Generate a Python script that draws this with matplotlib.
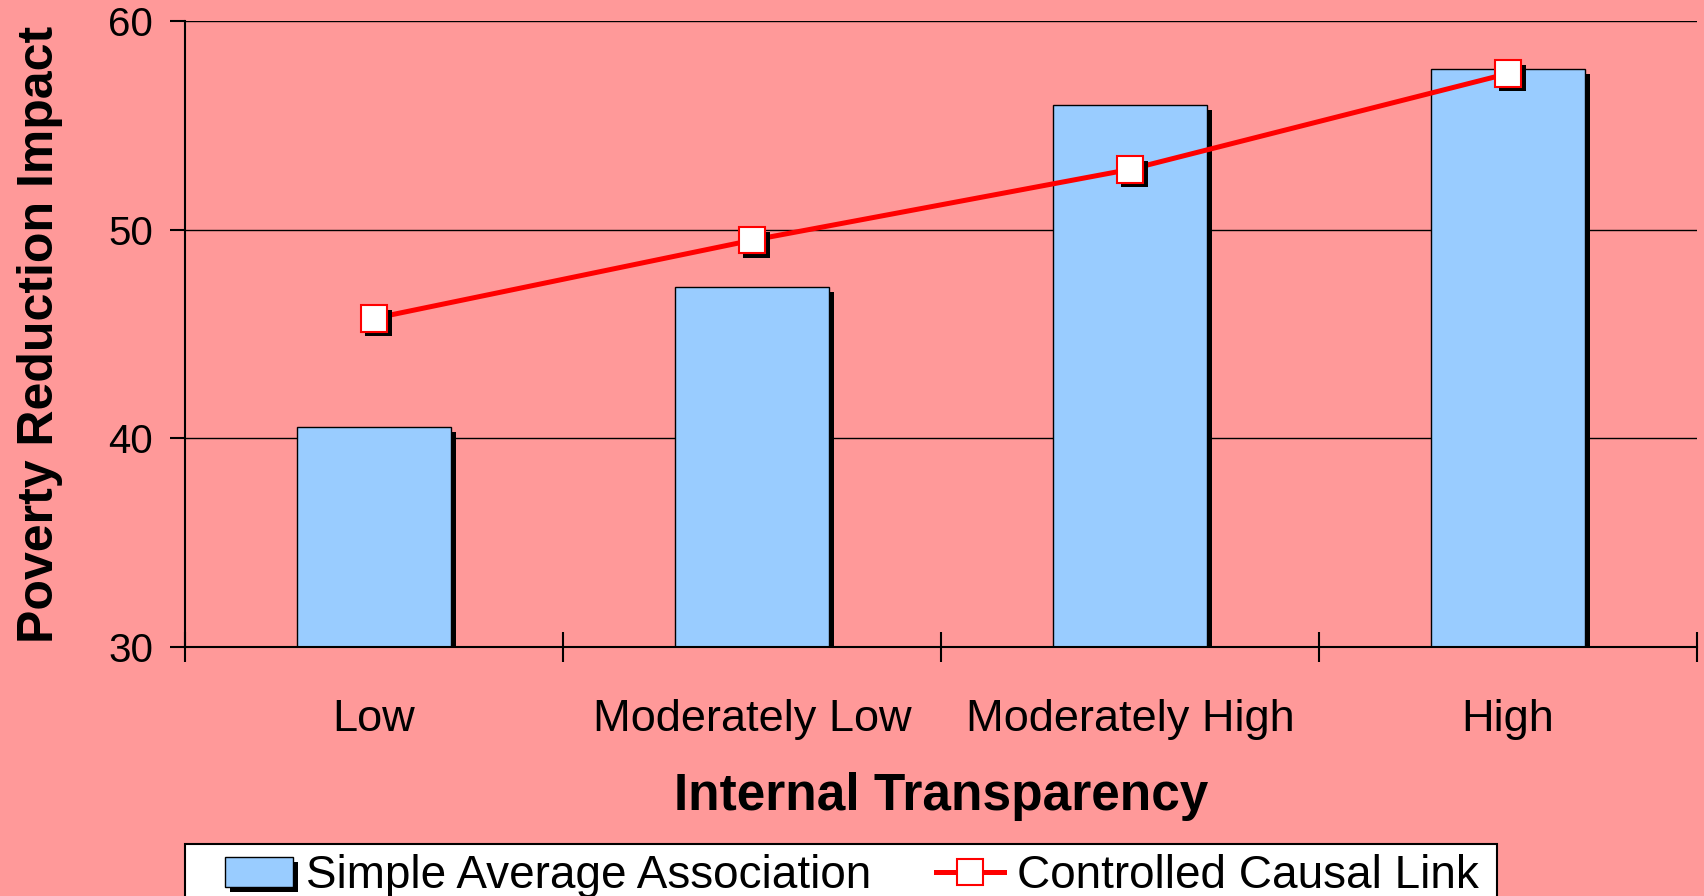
import matplotlib
matplotlib.use('Agg')
import matplotlib.pyplot as plt
import matplotlib.patheffects as pe
from matplotlib.lines import Line2D
from matplotlib.patches import Rectangle
import numpy as np

# data
categories = ['Low', 'Moderately Low', 'Moderately High', 'High']
simple_avg = [40.55, 47.25, 56.0, 57.7]
causal_link = [45.75, 49.5, 52.9, 57.5]
y_ticks = [30, 40, 50, 60]

BG = '#FF9999'
BAR = '#99CCFF'
LINE = '#FF0000'

plt.rcParams['font.family'] = ['Liberation Sans', 'DejaVu Sans']

W, H = 1704, 896
fig = plt.figure(figsize=(W / 100, H / 100), dpi=100, facecolor=BG)
ax = fig.add_axes([185 / W, 249.5 / H, 1512 / W, 625 / H])
ax.set_facecolor(BG)

x = np.arange(len(categories))

bar_shadow = [pe.SimplePatchShadow(offset=(3.6, -3.6), shadow_rgbFace='black', alpha=1), pe.Normal()]
bars = ax.bar(x, simple_avg, width=0.405, color=BAR, edgecolor='black', linewidth=1,
              zorder=2, path_effects=bar_shadow)

# line without shadow, markers with shadow
ax.plot(x, causal_link, color=LINE, lw=3.6, zorder=3)
mk_shadow = [pe.SimplePatchShadow(offset=(3.2, -3.2), shadow_rgbFace='black', alpha=1), pe.Normal()]
ax.plot(x, causal_link, ls='none', marker='s', ms=19, mfc='white', mec=LINE, mew=1.5,
        zorder=4, clip_on=False, path_effects=mk_shadow)

ax.set_xlim(-0.5, len(categories) - 0.5)
ax.set_ylim(y_ticks[0], y_ticks[-1])
ax.set_yticks(y_ticks)
ax.yaxis.grid(True, color='black', lw=1)
ax.set_axisbelow(True)

for s in ['top', 'right']:
    ax.spines[s].set_visible(False)
for s in ['left', 'bottom']:
    ax.spines[s].set_linewidth(1.5)

ax.set_xticks(np.arange(len(categories) + 1) - 0.5)
ax.set_xticks(x, categories, minor=True)
ax.tick_params(axis='x', which='major', direction='inout', length=22, width=1.5, labelbottom=False)
ax.tick_params(axis='x', which='minor', length=0, pad=38, labelsize=32.5)
ax.tick_params(axis='y', direction='out', length=11, width=1.5, pad=12, labelsize=29)

ax.set_xlabel('Internal Transparency', fontsize=37, fontweight='bold')
ax.xaxis.set_label_coords(0.5, -0.2)
ax.set_ylabel('Poverty Reduction Impact', fontsize=36, fontweight='bold')
ax.yaxis.set_label_coords(-0.081, 0.5)

# legend box, runs off the bottom edge like the original
fig.add_artist(Rectangle((185 / W, -0.1), (1497 - 185) / W, (H - 844) / H + 0.1,
                         transform=fig.transFigure, facecolor='white', edgecolor='black',
                         lw=1.5, zorder=1))
line_handle = Line2D([], [], color=LINE, lw=3.6, marker='s', ms=19, mfc='white', mec=LINE, mew=1.5)
fig.legend([bars, line_handle], ['Simple Average Association', 'Controlled Causal Link'],
           loc='upper left', bbox_to_anchor=(225 / W, 1 - 854 / H), ncol=2, frameon=False,
           fontsize=33, borderpad=0, borderaxespad=0, handlelength=1.48, handletextpad=0.28,
           columnspacing=1.42, handleheight=0.65)

fig.savefig('out.png', dpi=100, facecolor=BG)
